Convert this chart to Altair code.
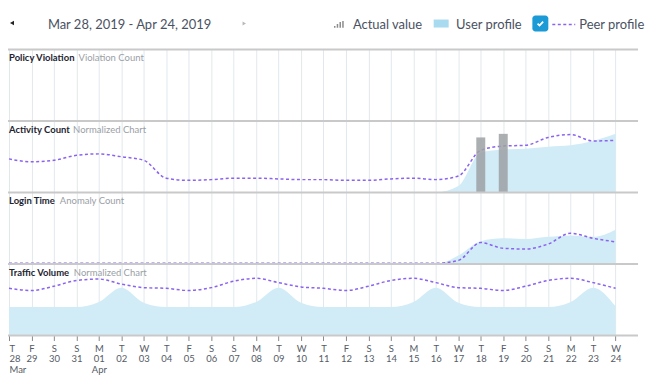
import json
import altair as alt
import pandas as pd

# ---------------- data ----------------
WEEKDAYS = ["T", "F", "S", "S", "M", "T", "W", "T", "F", "S", "S", "M", "T", "W",
            "T", "F", "S", "S", "M", "T", "W", "T", "F", "S", "S", "M", "T", "W"]
DAYS = ["28", "29", "30", "31", "01", "02", "03", "04", "05", "06", "07", "08", "09", "10",
        "11", "12", "13", "14", "15", "16", "17", "18", "19", "20", "21", "22", "23", "24"]
MONTHS = ["Mar", "", "", "", "Apr"] + [""] * 23

PANELS = ["Traffic Volume", "Login Time", "Activity Count", "Policy Violation"]
SUBTITLES = ["Normalized Chart", "Anomaly Count", "Normalized Chart", "Violation Count"]

activity_user = [0] * 20 + [9, 56, 60, 61, 64, 66, 72, 82]
activity_peer = [47, 43, 45, 52, 54, 50, 45, 20, 17, 18, 20, 20, 19, 18,
                 18, 17, 17, 19, 20, 18, 23, 59, 65, 66, 77, 81, 72, 73]
activity_actual_days = [21, 22]
activity_actual_values = [77, 82]

login_user = [0] * 20 + [12, 32, 36, 35, 38, 40, 38, 48]
login_peer = [1] * 20 + [5, 30, 22, 21, 28, 43, 36, 31]

traffic_user = [40, 40, 40, 40, 47, 67, 46, 40, 40, 40, 40, 47, 67, 46,
                40, 40, 40, 40, 47, 67, 46, 40, 40, 40, 40, 47, 67, 41]
traffic_peer = [66, 63, 69, 77, 79, 72, 67, 66, 63, 67, 76, 80, 74, 68,
                66, 63, 69, 77, 80, 74, 67, 66, 63, 69, 77, 80, 74, 66]

# ---------------- layout / style ----------------
W, H = 632, 287
FONT = "Lato"
PEER = "#8a63ee"
AREA = "#d2ecf7"
SUB_X = [66, 52, 65.3, 70.7]  # pixel x of grey subtitles (bottom panel first)

series = {
    "Traffic Volume": (traffic_user, traffic_peer),
    "Login Time": (login_user, login_peer),
    "Activity Count": (activity_user, activity_peer),
}
rows = []
for base, name in enumerate(PANELS):
    if name not in series:
        continue
    user, peer = series[name]
    for i, (u, p) in enumerate(zip(user, peer)):
        rows.append({"panel": name, "i": i, "base": base,
                     "user": base + u / 100, "peer": base + p / 100})
df = pd.DataFrame(rows)

bars = pd.DataFrame({
    "i": activity_actual_days,
    "base": [2] * len(activity_actual_days),
    "v": [2 + v / 100 for v in activity_actual_values],
})

titles = pd.DataFrame({
    "title": PANELS, "sub": SUBTITLES,
    "top": [b + 1 for b in range(len(PANELS))],
    "sx": SUB_X,
})
seps = pd.DataFrame({"y": list(range(len(PANELS) + 1))})

xs = alt.Scale(domain=[-0.044, 28], nice=False, zero=False, padding=0)
ys = alt.Scale(domain=[0, 4], nice=False, zero=False, padding=0)

label_expr = "[{w}[datum.value], {d}[datum.value], {m}[datum.value]]".format(
    w=json.dumps(WEEKDAYS), d=json.dumps(DAYS), m=json.dumps(MONTHS))

xaxis = alt.Axis(values=list(range(28)), tickCount=28, labelExpr=label_expr, title=None,
                 domain=False, grid=True, gridColor="#e1e8eb", gridWidth=1,
                 tickColor="#8a8a8a", tickSize=5, labelPadding=3,
                 labelFont=FONT, labelFontSize=9.5, labelColor="#555b66",
                 labelLineHeight=10.5, labelOverlap=False, labelFlush=False,
                 labelAlign={"condition": {"test": "datum.value == 0", "value": "left"},
                             "value": "center"})
X = alt.X("i:Q", scale=xs, axis=xaxis)

area = alt.Chart(df).mark_area(interpolate="monotone", color=AREA).encode(
    x=X,
    y=alt.Y("user:Q", scale=ys, stack=None, axis=None),
    y2="base:Q",
    detail="panel:N",
)

bar = alt.Chart(bars).mark_bar(size=9, color="#9ea1a4", opacity=0.85).encode(
    x=X,
    y=alt.Y("v:Q", scale=ys, axis=None),
    y2="base:Q",
)

peer = alt.Chart(df).mark_line(interpolate="monotone", color=PEER,
                               strokeDash=[3, 2.5], strokeWidth=1.5).encode(
    x=X,
    y=alt.Y("peer:Q", scale=ys, axis=None),
    detail="panel:N",
)

sep = alt.Chart(seps).mark_rule(color="#c9c9c9", strokeWidth=2).encode(
    y=alt.Y("y:Q", scale=ys, axis=None),
    x=alt.value(0), x2=alt.value(W),
)

ttl = alt.Chart(titles).mark_text(align="left", baseline="middle", dy=9,
                                  font=FONT, fontSize=9.5, fontWeight="bold",
                                  color="#1e2430").encode(
    x=alt.value(1), y=alt.Y("top:Q", scale=ys, axis=None), text="title:N")
sub = alt.Chart(titles).mark_text(align="left", baseline="middle", dy=9,
                                  font=FONT, fontSize=9.5, color="#9aa0a6").encode(
    x=alt.X("sx:Q", scale=None), y=alt.Y("top:Q", scale=ys, axis=None), text="sub:N")

one = pd.DataFrame({"k": [0]})
HY = -25
hdr_date = alt.Chart(one).mark_text(text="Mar 28, 2019 - Apr 24, 2019", align="left",
                                    baseline="middle", font=FONT, fontSize=13,
                                    color="#4a5262").encode(x=alt.value(40), y=alt.value(HY))
arrow_l = alt.Chart(one).mark_point(shape="triangle-left", filled=True, size=22,
                                    color="#222222", opacity=1).encode(
    x=alt.value(4), y=alt.value(HY - 1.5))
arrow_r = alt.Chart(one).mark_point(shape="triangle-right", filled=True, size=16,
                                    color="#b8b8b8", opacity=1).encode(
    x=alt.value(237), y=alt.value(HY - 1))

BAR_ICON = ("M-1,0.65H-0.7V0.3H-1Z M-0.45,0.65H-0.15V-0.1H-0.45Z "
            "M0.1,0.65H0.4V-0.5H0.1Z M0.65,0.65H0.95V-0.7H0.65Z")
icon = alt.Chart(one).mark_point(shape=BAR_ICON, filled=True, size=100,
                                 color="#8c8c8c", opacity=1).encode(
    x=alt.value(332), y=alt.value(HY))


def ltext(s, x):
    return alt.Chart(one).mark_text(text=s, align="left", baseline="middle",
                                    font=FONT, fontSize=13, color="#4a5262").encode(
        x=alt.value(x), y=alt.value(HY))


swatch = alt.Chart(one).mark_rect(color="#a8daf0").encode(
    x=alt.value(427), x2=alt.value(442), y=alt.value(HY - 5), y2=alt.value(HY + 3))
check_box = alt.Chart(one).mark_rect(color="#1b9ad6", cornerRadius=3).encode(
    x=alt.value(526), x2=alt.value(542), y=alt.value(HY - 9), y2=alt.value(HY + 7))
check = alt.Chart(one).mark_point(shape="M-0.7,0L-0.2,0.5L0.7,-0.5", filled=False,
                                  size=64, color="white", strokeWidth=1.8,
                                  opacity=1).encode(
    x=alt.value(534), y=alt.value(HY - 1))
dash = alt.Chart(one).mark_rule(color=PEER, strokeDash=[3, 2.5], strokeWidth=1.5).encode(
    x=alt.value(546), x2=alt.value(569), y=alt.value(HY))

chart = alt.layer(
    area, peer, bar, sep, ttl, sub,
    hdr_date, arrow_l, arrow_r, icon, ltext("Actual value", 346),
    swatch, ltext("User profile", 449.5), check_box, check, dash,
    ltext("Peer profile", 573),
).properties(
    width=W, height=H,
    autosize=alt.AutoSizeParams(type="none"),
    padding={"left": 0, "top": 41, "right": 14, "bottom": 40},
).configure_view(strokeWidth=0)

chart.save("out.html", embed_options={"renderer": "svg", "actions": False})
